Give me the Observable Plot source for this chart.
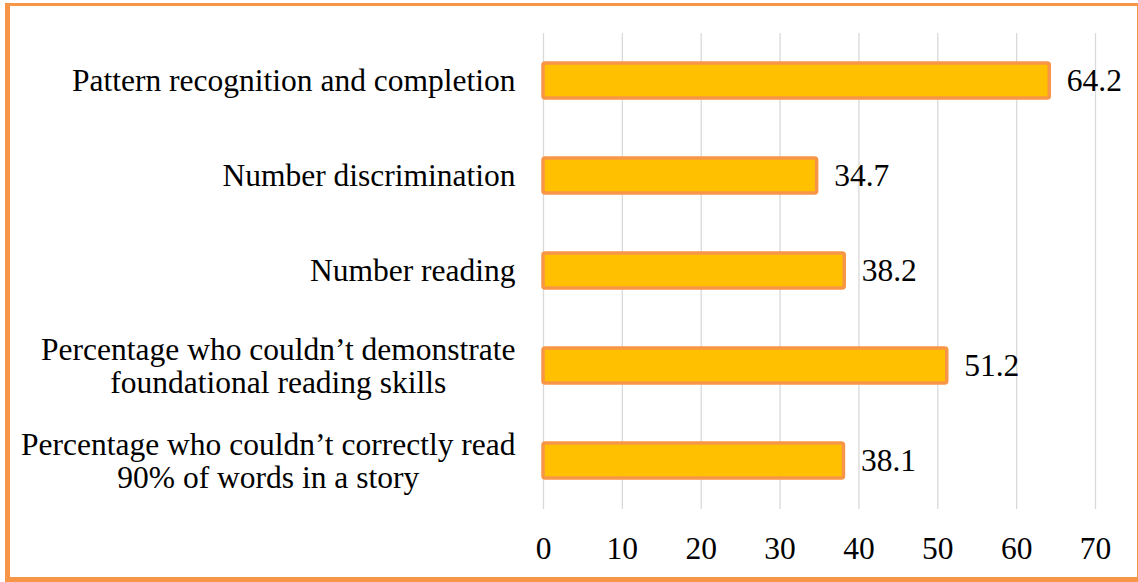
<!DOCTYPE html>
<html>
<head>
<meta charset="utf-8">
<script src="https://cdn.jsdelivr.net/npm/d3@7"></script>
<script src="https://cdn.jsdelivr.net/npm/@observablehq/plot@0.6"></script>
<style>
  html, body { margin: 0; padding: 0; background: #fff; }
  #wrap { position: relative; width: 1138px; height: 582px; overflow: hidden; }
  #frame { position: absolute; left: 5px; top: 3px; width: 1135px; height: 579px; box-sizing: border-box;
           border-style: solid; border-color: #F79646; border-width: 3px 3px 5px 5px; pointer-events: none; }
</style>
</head>
<body>
<div id="wrap"><div id="chart"></div><div id="frame"></div></div>
<script>
const categories = [
  "Pattern recognition and completion",
  "Number discrimination",
  "Number reading",
  "Percentage who couldn’t demonstrate\nfoundational reading skills",
  "Percentage who couldn’t correctly read\n90% of words in a story"
];
const values = [64.2, 34.7, 38.2, 51.2, 38.1];
const xTicks = [0, 10, 20, 30, 40, 50, 60, 70];

const data = categories.map((c, i) => ({category: c, value: values[i]}));

const chart = Plot.plot({
  width: 1138,
  height: 582,
  marginTop: 33,
  marginBottom: 73,
  marginLeft: 543,
  marginRight: 43,
  style: {fontFamily: "'Liberation Serif', serif", fontSize: "31.5px", color: "#000", background: "transparent"},
  x: {domain: [0, 70], ticks: xTicks, label: null},
  y: {domain: categories, paddingInner: 0.63, paddingOuter: 0.315, label: null},
  marks: [
    Plot.gridX(xTicks, {stroke: "#d9d9d9", strokeOpacity: 1, strokeWidth: 1.3}),
    Plot.barX(data, {x: "value", y: "category", fill: "#FFC000", stroke: "#F79646", strokeWidth: 3.5, rx: 2}),
    Plot.text(data, {x: "value", y: "category", text: d => d.value.toFixed(1), textAnchor: "start", dx: 17, fill: "#000"}),
    Plot.axisX(xTicks, {tickSize: 0, tickPadding: 27, label: null, fill: "#000"}),
    Plot.axisY({tickSize: 0, tickPadding: 28, label: null, lineHeight: 1.03, fill: "#000"})
  ]
});
document.getElementById("chart").appendChild(chart);

// center-align the lines of multi-line category labels within their block
chart.querySelectorAll("g[aria-label='y-axis tick label'] text").forEach(t => {
  const spans = t.querySelectorAll("tspan");
  if (spans.length > 1) {
    let w = 0;
    spans.forEach(s => { w = Math.max(w, s.getComputedTextLength()); });
    t.setAttribute("text-anchor", "middle");
    spans.forEach(s => s.setAttribute("x", -w / 2));
  }
});
</script>
</body>
</html>
